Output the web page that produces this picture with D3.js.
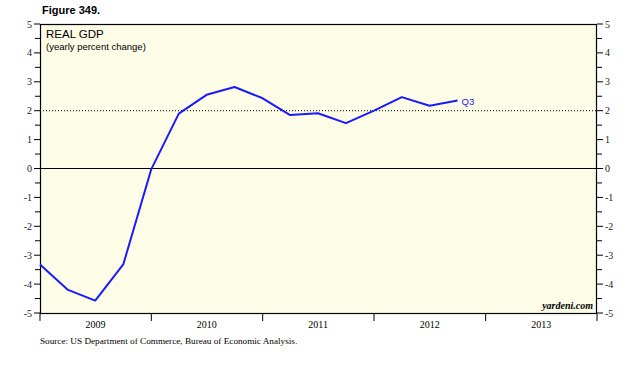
<!DOCTYPE html>
<html>
<head>
<meta charset="utf-8">
<script src="https://cdn.jsdelivr.net/npm/d3@7"></script>
<style>
	body { margin: 0; background: #fff; }
	svg { display: block; }
</style>
</head>
<body>
<div id="app"></div>
<script>
// quarterly real GDP, yearly percent change (plotted at quarter end)
const quarters = ['2008Q4', '2009Q1', '2009Q2', '2009Q3', '2009Q4',
	'2010Q1', '2010Q2', '2010Q3', '2010Q4',
	'2011Q1', '2011Q2', '2011Q3', '2011Q4',
	'2012Q1', '2012Q2', '2012Q3'];
const gdp = [-3.32, -4.19, -4.57, -3.32, -0.02,
	1.90, 2.55, 2.82, 2.43,
	1.85, 1.91, 1.57, 2.00,
	2.47, 2.17, 2.35];
const years = [2009, 2010, 2011, 2012, 2013];
const yTicks = [-5, -4, -3, -2, -1, 0, 1, 2, 3, 4, 5];

const W = 636, H = 366;
const margin = { top: 24, right: 39, bottom: 53, left: 40 };
const width = W - margin.left - margin.right,
	height = H - margin.top - margin.bottom;

function quarterEnd (q) {
	const y = +q.slice(0, 4), n = +q.slice(5);
	return new Date(y, n * 3, 1);
}
const data = quarters.map((q, i) => ({ date: quarterEnd(q), value: gdp[i] }));

const svg = d3.select('#app').append('svg')
	.attr('width', W)
	.attr('height', H);

const x = d3.scaleTime()
	.domain([new Date(years[0], 0, 1), new Date(years[years.length - 1] + 1, 0, 1)])
	.range([margin.left, margin.left + width]);
const y = d3.scaleLinear()
	.domain([-5, 5])
	.range([margin.top + height, margin.top]);

// plot background
svg.append('rect')
	.attr('x', margin.left).attr('y', margin.top)
	.attr('width', width).attr('height', height)
	.attr('fill', '#fdfce6');

svg.append('text')
	.attr('x', 42).attr('y', 14)
	.attr('font-family', 'Liberation Sans, Arial, sans-serif')
	.attr('font-weight', 'bold').attr('font-size', 11)
	.text('Figure 349.');

// y=2 dotted reference, zero line
svg.append('line')
	.attr('x1', margin.left).attr('x2', margin.left + width)
	.attr('y1', y(2)).attr('y2', y(2))
	.attr('stroke', '#000').attr('stroke-width', 1)
	.attr('stroke-dasharray', '1,2');
svg.append('line')
	.attr('x1', margin.left).attr('x2', margin.left + width)
	.attr('y1', y(0)).attr('y2', y(0))
	.attr('stroke', '#000').attr('stroke-width', 1);

// frame
svg.append('rect')
	.attr('x', margin.left + 0.5).attr('y', margin.top + 0.5)
	.attr('width', width - 1).attr('height', height)
	.attr('fill', 'none').attr('stroke', '#000').attr('stroke-width', 1.2);

// y axes with half-unit minor ticks
const minor = d3.range(-4.5, 5, 1);
[['left', margin.left, -1], ['right', margin.left + width, 1]].forEach(([side, x0, dir]) => {
	const g = svg.append('g');
	g.selectAll('line.major').data(yTicks).enter().append('line')
		.attr('x1', x0).attr('x2', x0 + dir * 6)
		.attr('y1', d => y(d)).attr('y2', d => y(d))
		.attr('stroke', '#000');
	g.selectAll('line.minor').data(minor).enter().append('line')
		.attr('x1', x0).attr('x2', x0 + dir * 5)
		.attr('y1', d => y(d)).attr('y2', d => y(d))
		.attr('stroke', '#000');
	g.selectAll('text').data(yTicks).enter().append('text')
		.attr('x', x0 + dir * 8)
		.attr('y', d => y(d) + 3.5)
		.attr('text-anchor', side === 'left' ? 'end' : 'start')
		.attr('font-family', 'Liberation Serif, Times New Roman, serif')
		.attr('font-size', 10)
		.attr('fill', '#222')
		.text(d => d);
});

// x axis: year boundaries, labels centred
const bounds = years.concat([years[years.length - 1] + 1]);
svg.selectAll('line.xtick').data(bounds).enter().append('line')
	.attr('x1', d => x(new Date(d, 0, 1))).attr('x2', d => x(new Date(d, 0, 1)))
	.attr('y1', margin.top + height).attr('y2', margin.top + height + 8)
	.attr('stroke', '#000');
svg.selectAll('text.year').data(years).enter().append('text')
	.attr('x', d => x(new Date(d, 6, 2)))
	.attr('y', margin.top + height + 15)
	.attr('text-anchor', 'middle')
	.attr('font-family', 'Liberation Serif, Times New Roman, serif')
	.attr('font-size', 10)
	.text(d => d);

// titles
svg.append('text')
	.attr('x', 46).attr('y', 38)
	.attr('font-family', 'Liberation Sans, Arial, sans-serif')
	.attr('font-size', 11.5)
	.text('REAL GDP');
svg.append('text')
	.attr('x', 46).attr('y', 50)
	.attr('font-family', 'Liberation Sans, Arial, sans-serif')
	.attr('font-size', 9.5)
	.text('(yearly percent change)');

// series
const line = d3.line()
	.x(d => x(d.date))
	.y(d => y(d.value));
svg.append('path')
	.datum(data)
	.attr('d', line)
	.attr('fill', 'none')
	.attr('stroke', '#1a1aff')
	.attr('stroke-width', 2)
	.attr('stroke-linejoin', 'round');

const last = data[data.length - 1];
svg.append('text')
	.attr('x', x(last.date) + 4)
	.attr('y', y(last.value) + 4)
	.attr('font-family', 'Liberation Sans, Arial, sans-serif')
	.attr('font-size', 9.5)
	.attr('fill', '#1a1aff')
	.text('Q3');

svg.append('text')
	.attr('x', margin.left + width - 4)
	.attr('y', margin.top + height - 4)
	.attr('text-anchor', 'end')
	.attr('font-family', 'Liberation Serif, Times New Roman, serif')
	.attr('font-style', 'italic').attr('font-weight', 'bold')
	.attr('font-size', 10)
	.text('yardeni.com');

svg.append('text')
	.attr('x', 40).attr('y', 344)
	.attr('font-family', 'Liberation Serif, Times New Roman, serif')
	.attr('font-size', 9.2)
	.text('Source: US Department of Commerce, Bureau of Economic Analysis.');
</script>
</body>
</html>
